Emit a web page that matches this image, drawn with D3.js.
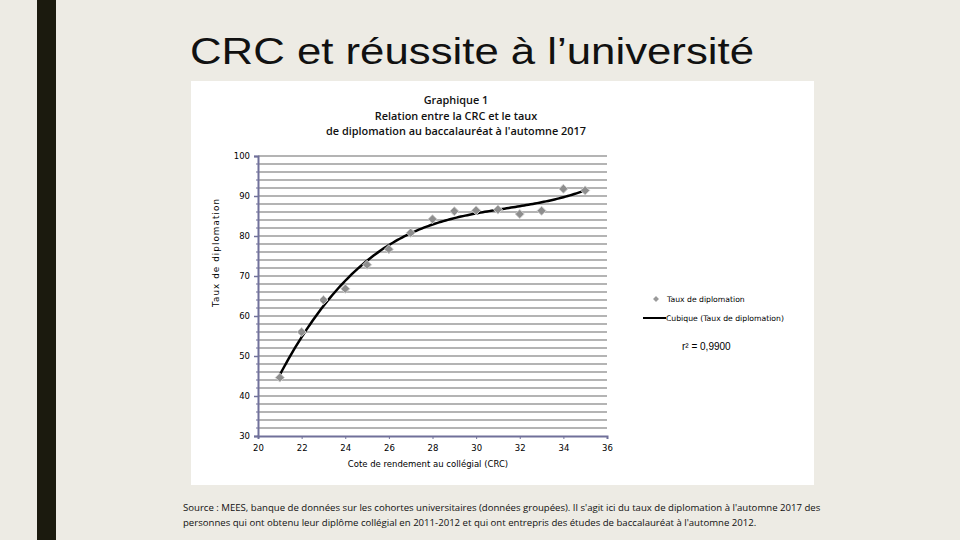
<!DOCTYPE html>
<html><head><meta charset="utf-8">
<script src="https://cdn.jsdelivr.net/npm/d3@7"></script>
<style>
html,body{margin:0;padding:0;background:#edebe4;}
svg{display:block;}
</style></head>
<body>
<svg id="c" width="960" height="540"></svg>
<script>
const crc = [21,22,23,24,25,26,27,28,29,30,31,32,33,34,35];
const taux = [44.6,56,64,66.8,72.8,76.7,80.8,84.2,86.2,86.4,86.6,85.5,86.3,91.8,91.4];
const xTicks = [20,22,24,26,28,30,32,34,36];
const yTicks = [30,40,50,60,70,80,90,100];
const titleLines = ["Graphique 1","Relation entre la CRC et le taux","de diplomation au baccalauréat à l'automne 2017"];
const sourceLines = ["Source : MEES, banque de données sur les cohortes universitaires (données groupées). Il s'agit ici du taux de diplomation à l'automne 2017 des",
"personnes qui ont obtenu leur diplôme collégial en 2011-2012 et qui ont entrepris des études de baccalauréat à l'automne 2012."];

const svg = d3.select("#c");
svg.append("rect").attr("width",960).attr("height",540).attr("fill","#edebe4");
svg.append("rect").attr("x",37).attr("y",0).attr("width",19).attr("height",540).attr("fill","#1b1a0e");
svg.append("text").attr("x",190).attr("y",64).attr("font-family","Liberation Sans, Arial, sans-serif")
  .attr("font-size",36).attr("textLength",564).attr("lengthAdjust","spacingAndGlyphs")
  .attr("fill","#111").text("CRC et réussite à l’université");
svg.append("rect").attr("x",191).attr("y",81).attr("width",623).attr("height",404).attr("fill","#fff");

const x = d3.scaleLinear().domain([20,36]).range([258,607]);
const y = d3.scaleLinear().domain([30,100]).range([436,156]);
const font = "DejaVu Sans, Verdana, sans-serif";

// gridlines
const grid = d3.range(32,101,2);
svg.append("g").selectAll("line").data(grid).join("line")
  .attr("x1",x(20)).attr("x2",x(36)).attr("y1",d=>y(d)).attr("y2",d=>y(d))
  .attr("stroke","#b4b4b4").attr("stroke-width",2);

// y axis
const yAxis = d3.axisLeft(y).tickValues(yTicks).tickSize(4).tickPadding(4);
const gy = svg.append("g").attr("transform",`translate(${x(20)},0)`).call(yAxis);
gy.select(".domain").attr("stroke","#70709a").attr("stroke-width",2);
gy.selectAll(".tick line").attr("stroke","#70709a").attr("stroke-width",1.5);
gy.selectAll("text").attr("font-family",font).attr("font-size",8.5).attr("fill","#000");
// minor ticks
svg.append("g").selectAll("line").data(grid.filter(d=>d%10)).join("line")
  .attr("x1",x(20)-2).attr("x2",x(20)).attr("y1",d=>y(d)).attr("y2",d=>y(d))
  .attr("stroke","#70709a").attr("stroke-width",1);

// x axis
const xAxis = d3.axisBottom(x).tickValues(xTicks).tickSize(3).tickPadding(6);
const gx = svg.append("g").attr("transform",`translate(0,${y(30)})`).call(xAxis);
gx.select(".domain").attr("stroke","#70709a").attr("stroke-width",2);
gx.selectAll(".tick line").attr("stroke","#70709a");
gx.selectAll("text").attr("font-family",font).attr("font-size",8.5).attr("fill","#000");

// cubic least-squares trendline (Excel "Cubique")
function cubicFit(xs, ys){
  const n=4, A=[], b=[];
  for(let i=0;i<n;i++){A.push([]);for(let j=0;j<n;j++)A[i].push(d3.sum(xs,v=>Math.pow(v,i+j)));b.push(d3.sum(xs,(v,k)=>Math.pow(v,i)*ys[k]));}
  for(let i=0;i<n;i++){let p=i;for(let r=i+1;r<n;r++)if(Math.abs(A[r][i])>Math.abs(A[p][i]))p=r;
    [A[i],A[p]]=[A[p],A[i]];[b[i],b[p]]=[b[p],b[i]];
    for(let r=i+1;r<n;r++){const f=A[r][i]/A[i][i];for(let c=i;c<n;c++)A[r][c]-=f*A[i][c];b[r]-=f*b[i];}}
  const c=new Array(n).fill(0);
  for(let i=n-1;i>=0;i--){let s=b[i];for(let j=i+1;j<n;j++)s-=A[i][j]*c[j];c[i]=s/A[i][i];}
  return c;
}
const xm = d3.mean(crc);
const coef = cubicFit(crc.map(v=>v-xm), taux);
const fx = v=>{const t=v-xm;return coef[0]+coef[1]*t+coef[2]*t*t+coef[3]*t*t*t;};
const curvePts = d3.range(crc[0], crc[crc.length-1]+0.001, 0.1).map(v=>[v,fx(v)]);
svg.append("path").datum(curvePts)
  .attr("d",d3.line().x(d=>x(d[0])).y(d=>y(d[1])))
  .attr("fill","none").attr("stroke","#000").attr("stroke-width",2.5);

// markers (square diamonds)
const dia = r => `M0,${-r}L${r},0L0,${r}L${-r},0Z`;
svg.append("g").selectAll("path").data(crc).join("path")
  .attr("transform",(d,i)=>`translate(${x(d)},${y(taux[i])})`)
  .attr("d",dia(4.5)).attr("fill","#8e8e8e").attr("stroke","#cfcfcf").attr("stroke-width",1);

// chart title
svg.append("g").selectAll("text").data(titleLines).join("text")
  .attr("x",456).attr("y",(d,i)=>104+i*15.5).attr("text-anchor","middle")
  .attr("font-family","Open Sans, DejaVu Sans, sans-serif").attr("font-weight",600).attr("font-size",10.9).attr("fill","#111").text(d=>d);

// axis titles
svg.append("text").attr("x",428).attr("y",467).attr("text-anchor","middle")
  .attr("font-family",font).attr("font-size",8.5).attr("fill","#000").text("Cote de rendement au collégial (CRC)");
svg.append("text").attr("transform","translate(219,253) rotate(-90)").attr("text-anchor","middle")
  .attr("font-family",font).attr("font-size",8.8).attr("textLength",108).attr("lengthAdjust","spacing")
  .attr("fill","#000").text("Taux de diplomation");

// legend
svg.append("path").attr("transform","translate(656,299)").attr("d",dia(3))
  .attr("fill","#9a9a9a").attr("stroke","#d0d0d0");
svg.append("text").attr("x",667).attr("y",302).attr("font-family",font).attr("font-size",7.7).attr("fill","#000").text("Taux de diplomation");
svg.append("line").attr("x1",643).attr("x2",666).attr("y1",318).attr("y2",318).attr("stroke","#000").attr("stroke-width",2);
svg.append("text").attr("x",666).attr("y",321).attr("font-family",font).attr("font-size",7.7).attr("fill","#000").text("Cubique (Taux de diplomation)");
svg.append("text").attr("x",682).attr("y",350).attr("font-family","Liberation Sans, Arial, sans-serif").attr("font-size",10).attr("fill","#000").text("r² = 0,9900");

// source
svg.append("g").selectAll("text").data(sourceLines).join("text")
  .attr("x",183).attr("y",(d,i)=>511+i*14.5)
  .attr("font-family","Open Sans, DejaVu Sans, sans-serif").attr("font-size",9.6).attr("fill","#111").text(d=>d);
</script>
</body></html>
